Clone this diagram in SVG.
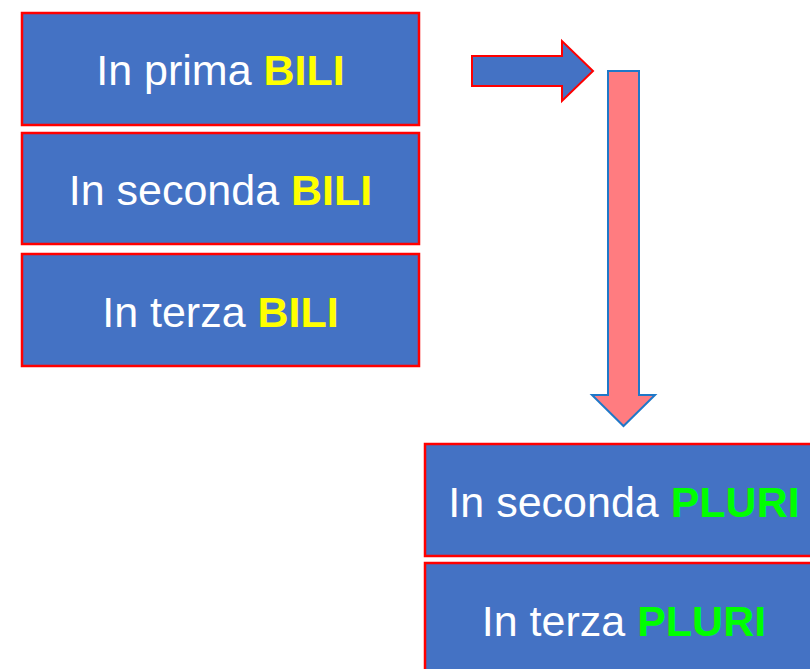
<svg xmlns="http://www.w3.org/2000/svg" width="810" height="669" viewBox="0 0 810 669">
<style>
.box{fill:#4472C4;stroke:#FF0000;stroke-width:2.5}
.t{font-family:"Liberation Sans",Arial,sans-serif;font-size:43px;fill:#FFFFFF;text-anchor:middle}
.y{font-weight:bold;fill:#FFFF00}
.g{font-weight:bold;fill:#00FF00}
</style>
<rect width="810" height="669" fill="#FFFFFF"/>
<g id="node-prima-bili">
<rect class="box" x="22" y="13" width="397" height="112"/>
<text class="t" x="220.5" y="84.5">In prima <tspan class="y">BILI</tspan></text>
</g>
<g id="node-seconda-bili">
<rect class="box" x="22" y="133" width="397" height="111"/>
<text class="t" x="220.5" y="204.5">In seconda <tspan class="y">BILI</tspan></text>
</g>
<g id="node-terza-bili">
<rect class="box" x="22" y="254" width="397" height="112"/>
<text class="t" x="220.5" y="326.5">In terza <tspan class="y">BILI</tspan></text>
</g>
<g id="node-seconda-pluri">
<rect class="box" x="425" y="444" width="398" height="112"/>
<text class="t" x="624" y="516.5">In seconda <tspan class="g">PLURI</tspan></text>
</g>
<g id="node-terza-pluri">
<rect class="box" x="425" y="563" width="398" height="112"/>
<text class="t" x="624" y="635.5">In terza <tspan class="g">PLURI</tspan></text>
</g>
<g id="connectors">
<polygon points="472,56 562,56 562,41 593,71 562,101 562,86 472,86" fill="#4472C4" stroke="#FF0000" stroke-width="2"/>
<polygon points="608,71 639,71 639,395 655,395 623.5,426 592,395 608,395" fill="#FF7C80" stroke="#1F78C8" stroke-width="2"/>
</g>
</svg>
